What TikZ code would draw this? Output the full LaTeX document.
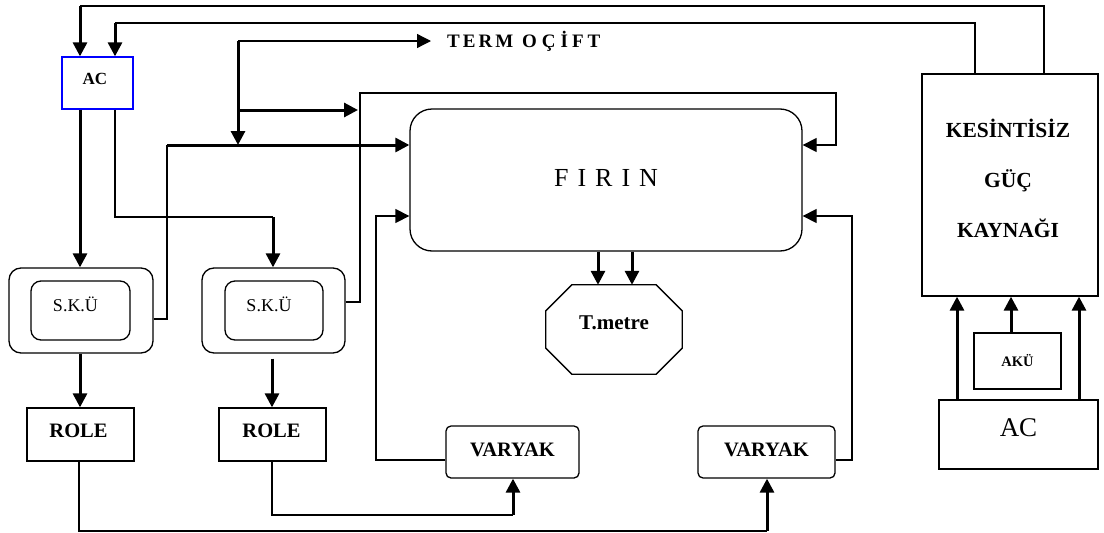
\documentclass[tikz,border=0pt]{standalone}
\usepackage{fontspec}
\setmainfont{Liberation Serif}
\usetikzlibrary{arrows.meta,calc}
\begin{document}
\begin{tikzpicture}[x=1pt,y=-1pt,
  thinline/.style={line width=1.3pt},
  thickline/.style={line width=3pt},
  tip/.style={-{Triangle[length=14pt,width=14pt]}},
  box/.style={draw,line width=1.3pt,inner sep=0pt},
  boldtext/.style={font=\fontsize{20.5}{24}\selectfont\bfseries},
]
\useasboundingbox (0,0) rectangle (1104,533);

% nodes
\node[box, draw=blue, minimum width=71pt, minimum height=52pt, font=\fontsize{17}{18}\selectfont\bfseries] (ac1) at (97.5,83) {\raisebox{8pt}{AC}\hspace*{5pt}};
\node[box, minimum width=176pt, minimum height=222pt] (ups) at (1010,185) {};
\node[align=center, inner sep=0pt, font=\fontsize{21.5}{50}\selectfont\bfseries] (upstext) at (1008,178) {KESİNTİSİZ\\GÜÇ\\KAYNAĞI};
\node[box, minimum width=87pt, minimum height=56pt, font=\fontsize{14.5}{16}\selectfont\bfseries] (aku) at (1017.5,361) {AKÜ};
\node[box, minimum width=159pt, minimum height=69pt, font=\fontsize{27}{30}\selectfont] (acb) at (1018.5,434.5) {\raisebox{14pt}{AC}};
\node[box, rounded corners=22pt, minimum width=392pt, minimum height=142pt, font=\fontsize{26}{30}\selectfont] (firin) at (606,180) {\raisebox{4pt}{F\hspace{9pt}I\hspace{9pt}R\hspace{9pt}I\hspace{9pt}N}};
\node[minimum width=136pt, minimum height=89pt, inner sep=0pt, font=\fontsize{21}{24}\selectfont\bfseries] (tm) at (614,329.5) {\raisebox{14pt}{T.metre}};
\draw[thinline] ($(tm.north west)+(26,0)$) -- ($(tm.north east)+(-26,0)$) -- ($(tm.north east)+(0,26)$) -- ($(tm.south east)+(0,-26)$) -- ($(tm.south east)+(-26,0)$) -- ($(tm.south west)+(26,0)$) -- ($(tm.south west)+(0,-26)$) -- ($(tm.north west)+(0,26)$) -- cycle;

\node[box, rounded corners=12pt, minimum width=144pt, minimum height=85pt] (sku1o) at (81,310.5) {};
\node[box, rounded corners=10pt, minimum width=99pt, minimum height=59pt, font=\fontsize{18}{20}\selectfont] (sku1) at (80.5,310.5) {\raisebox{12pt}{S.K.Ü}\hspace*{10pt}};
\node[box, rounded corners=12pt, minimum width=143pt, minimum height=85pt] (sku2o) at (273.5,310.5) {};
\node[box, rounded corners=10pt, minimum width=98pt, minimum height=59pt, font=\fontsize{18}{20}\selectfont] (sku2) at (274,310.5) {\raisebox{12pt}{S.K.Ü}\hspace*{10pt}};

\node[box, boldtext, minimum width=107pt, minimum height=53pt] (role1) at (80.5,434.5) {\raisebox{8pt}{ROLE}\hspace*{4pt}};
\node[box, boldtext, minimum width=107pt, minimum height=53pt] (role2) at (272.5,434.5) {\raisebox{8pt}{ROLE}\hspace*{2pt}};
\node[box, boldtext, rounded corners=5pt, minimum width=133pt, minimum height=52pt] (var1) at (512.5,452) {\raisebox{4pt}{VARYAK}};
\node[box, boldtext, rounded corners=5pt, minimum width=137pt, minimum height=52pt] (var2) at (766.5,452) {\raisebox{4pt}{VARYAK}};

\node[anchor=west, inner xsep=16pt, inner ysep=0pt, font=\fontsize{19}{20}\selectfont\bfseries] (termo) at (431,41) {T\hspace{3pt}E\hspace{3pt}R\hspace{3pt}M\hspace{9pt}O\hspace{5pt}Ç\hspace{5pt}İ\hspace{4pt}F\hspace{4pt}T};

% coordinates
\coordinate (c1) at (1044,6);  \coordinate (c2) at (80,6);
\coordinate (c3) at (975,23);  \coordinate (c4) at (115,23);
\coordinate (c5) at (115,217); \coordinate (c6) at (273,217);
\coordinate (c7) at (167,319); \coordinate (c8) at (167,145);
\coordinate (c9) at (238,41);  \coordinate (c11) at (238,110); \coordinate (c12) at (358,110);
\coordinate (d1) at (360,302); \coordinate (d2) at (360,93); \coordinate (d3) at (836,93); \coordinate (d4) at (836,145);
\coordinate (e1) at (376,460); \coordinate (e2) at (376,216);
\coordinate (e3) at (852,460); \coordinate (e4) at (852,216);
\coordinate (f1) at (598,0);   \coordinate (f2) at (632,0);
\coordinate (g1) at (272,0);
\coordinate (h1) at (79,531);  \coordinate (h2) at (767,531);
\coordinate (h3) at (272,515); \coordinate (h4) at (513,515);
\coordinate (k1) at (957,0);   \coordinate (k2) at (1079,0); \coordinate (k3) at (1011,0);

% connectors
\draw[thinline] (ups.north -| c1) -- (c1) -- (c2);
\draw[thickline,tip] (c2) -- (c2 |- ac1.north);
\draw[thinline] (ups.north -| c3) -- (c3) -- (c4);
\draw[thickline,tip] (c4) -- (c4 |- ac1.north);

\draw[thickline,tip] (ac1.south -| c2) -- (sku1o.north -| c2);
\draw[thinline] (ac1.south -| c5) -- (c5) -- (c6);
\draw[thickline,tip] (c6) -- (sku2o.north -| c6);

\draw[thinline] (sku1o.east |- c7) -- (c7) -- (c8);
\draw[thickline,tip] (c8) -- (firin.west |- c8);

\draw[thinline,tip] (c9) -- (termo.west);
\draw[thickline,tip] (c9) -- (c9 |- c8);
\draw[thickline,tip] (c11) -- (c12);

\draw[thinline,tip] (sku2o.east |- d1) -- (d1) -- (d2) -- (d3) -- (d4) -- (firin.east |- d4);
\draw[thinline,tip] (var1.west |- e1) -- (e1) -- (e2) -- (firin.west |- e2);
\draw[thinline,tip] (var2.east |- e3) -- (e3) -- (e4) -- (firin.east |- e4);

\draw[thickline,tip] (firin.south -| f1) -- (tm.north -| f1);
\draw[thickline,tip] (firin.south -| f2) -- (tm.north -| f2);

\draw[thickline,tip] (sku1o.south -| c2) -- (role1.north -| c2);
\draw[thickline,tip,shorten <=5pt] (sku2o.south -| g1) -- (role2.north -| g1);

\draw[thinline] (role1.south -| h1) -- (h1) -- (h2);
\draw[thickline,tip] (h2) -- (var2.south -| h2);
\draw[thinline] (role2.south -| h3) -- (h3) -- (h4);
\draw[thickline,tip] (h4) -- (var1.south -| h4);

\draw[thickline,tip] (acb.north -| k1) -- (ups.south -| k1);
\draw[thickline,tip] (acb.north -| k2) -- (ups.south -| k2);
\draw[thickline,tip] (aku.north -| k3) -- (ups.south -| k3);
\end{tikzpicture}
\end{document}
